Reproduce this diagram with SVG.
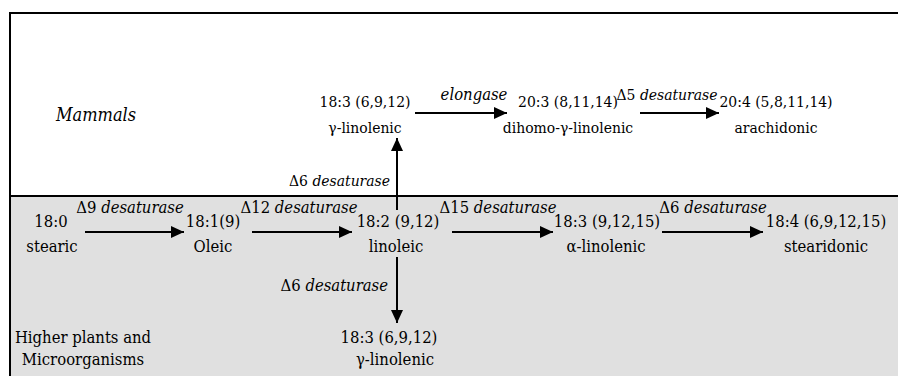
<svg xmlns="http://www.w3.org/2000/svg" width="898" height="376" viewBox="0 0 898 376">
  <defs>
    <marker id="head" markerUnits="userSpaceOnUse" markerWidth="14" markerHeight="12" refX="13" refY="6" orient="auto">
      <path d="M0,0 L13,6 L0,12 Z" fill="#000"/>
    </marker>
    <style>
      text { font-family: 'DejaVu Serif Condensed', 'DejaVu Serif', serif; font-stretch: condensed; fill: #000; text-anchor: middle; }
      .top { font-size: 15.5px; }
      .bot { font-size: 16.5px; }
      .it { font-style: italic; }
      .title { font-size: 18px; }
      .conn { stroke: #000; stroke-width: 2; fill: none; marker-end: url(#head); }
      .frame { stroke: #000; stroke-width: 2; fill: none; }
    </style>
  </defs>

  <!-- background panels -->
  <rect x="0" y="0" width="898" height="376" fill="#fff"/>
  <rect x="10" y="196" width="888" height="180" fill="#e0e0e0"/>
  <g id="frame">
    <path class="frame" d="M10,376 V13 H898"/>
    <path class="frame" d="M10,196 H898"/>
  </g>

  <!-- connectors -->
  <g id="connectors">
    <line class="conn" x1="415" y1="113" x2="507" y2="113"/>
    <line class="conn" x1="640" y1="113" x2="719" y2="113"/>
    <line class="conn" x1="397" y1="210" x2="397" y2="138"/>
    <line class="conn" x1="85" y1="232" x2="184" y2="232"/>
    <line class="conn" x1="252" y1="232" x2="352" y2="232"/>
    <line class="conn" x1="452" y1="232" x2="553" y2="232"/>
    <line class="conn" x1="662" y1="232" x2="763" y2="232"/>
    <line class="conn" x1="397" y1="257" x2="397" y2="323"/>
  </g>

  <!-- enzyme labels -->
  <g id="labels">
    <text class="top it" x="474" y="100" style="font-size:16.5px">elongase</text>
    <text class="top" x="667" y="100">Δ5 <tspan class="it">desaturase</tspan></text>
    <text class="top" x="390" y="186" style="text-anchor:end">Δ6 <tspan class="it">desaturase</tspan></text>
    <text class="bot" x="130" y="213">Δ9 <tspan class="it">desaturase</tspan></text>
    <text class="bot" x="299" y="213">Δ12 <tspan class="it">desaturase</tspan></text>
    <text class="bot" x="498" y="213">Δ15 <tspan class="it">desaturase</tspan></text>
    <text class="bot" x="713" y="213">Δ6 <tspan class="it">desaturase</tspan></text>
    <text class="bot" x="388" y="291" style="text-anchor:end">Δ6 <tspan class="it">desaturase</tspan></text>
  </g>

  <!-- section titles -->
  <g id="mammals">
    <text class="title it" x="96" y="121">Mammals</text>
  </g>
  <g id="plants">
    <text class="bot" x="83" y="343">Higher plants and</text>
    <text class="bot" x="83" y="365">Microorganisms</text>
  </g>

  <!-- fatty acid nodes: mammals -->
  <g id="gla-mammal">
    <text class="top" x="365" y="107">18:3 (6,9,12)</text>
    <text class="top" x="365" y="133">γ-linolenic</text>
  </g>
  <g id="dgla">
    <text class="top" x="568" y="107">20:3 (8,11,14)</text>
    <text class="top" x="568" y="133">dihomo-γ-linolenic</text>
  </g>
  <g id="arachidonic">
    <text class="top" x="776" y="107">20:4 (5,8,11,14)</text>
    <text class="top" x="776" y="133">arachidonic</text>
  </g>

  <!-- fatty acid nodes: plants and microorganisms -->
  <g id="stearic">
    <text class="bot" x="51" y="227">18:0</text>
    <text class="bot" x="52" y="252">stearic</text>
  </g>
  <g id="oleic">
    <text class="bot" x="213" y="227">18:1(9)</text>
    <text class="bot" x="213" y="252">Oleic</text>
  </g>
  <g id="linoleic">
    <text class="bot" x="398" y="227">18:2 (9,12)</text>
    <text class="bot" x="396" y="252">linoleic</text>
  </g>
  <g id="ala">
    <text class="bot" x="607" y="227">18:3 (9,12,15)</text>
    <text class="bot" x="606" y="252">α-linolenic</text>
  </g>
  <g id="stearidonic">
    <text class="bot" x="826" y="227">18:4 (6,9,12,15)</text>
    <text class="bot" x="826" y="252">stearidonic</text>
  </g>
  <g id="gla-plant">
    <text class="bot" x="389" y="343">18:3 (6,9,12)</text>
    <text class="bot" x="395" y="365">γ-linolenic</text>
  </g>
</svg>
